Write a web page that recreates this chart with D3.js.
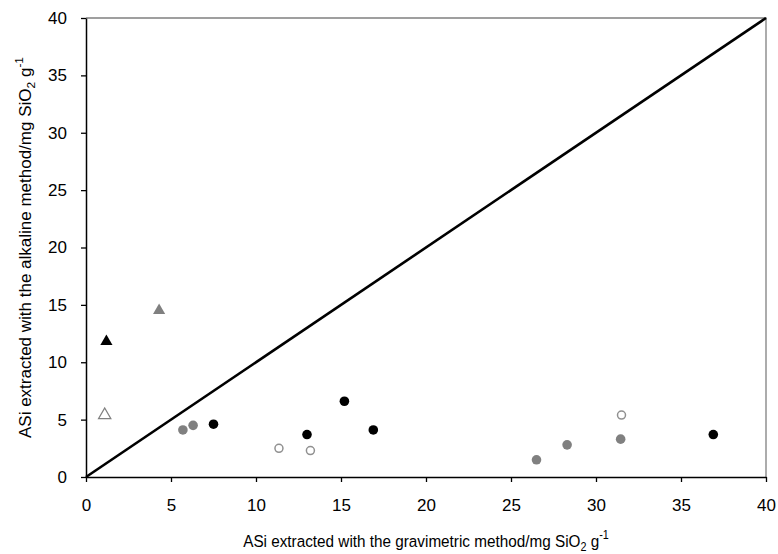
<!DOCTYPE html>
<html>
<head>
<meta charset="utf-8">
<script src="https://cdn.jsdelivr.net/npm/d3@7"></script>
<style>
  body { margin: 0; background: #fff; }
  text { font-family: Arial, "Liberation Sans", sans-serif; }
</style>
</head>
<body>
<svg id="chart" width="778" height="554"></svg>
<script>
// data
const blackTriangles = [[1.2, 11.8]];
const grayTriangles = [[4.3, 14.5]];
const openTriangles = [[1.1, 5.4]];
const blackCircles = [[7.5, 4.6], [13.0, 3.7], [15.2, 6.6], [16.9, 4.1], [36.9, 3.7]];
const grayCircles = [[5.7, 4.1], [6.3, 4.5], [26.5, 1.5], [28.3, 2.8], [31.45, 3.3]];
const openCircles = [[11.35, 2.5], [13.2, 2.3], [31.5, 5.4]];
const ticks = [0, 5, 10, 15, 20, 25, 30, 35, 40];

const svg = d3.select("#chart");
const m = { left: 86, right: 766, top: 18, bottom: 477 };

const x = d3.scaleLinear().domain([0, 40]).range([m.left, m.right]);
const y = d3.scaleLinear().domain([0, 40]).range([m.bottom, m.top]);

// gray frame on top & right
svg.append("path")
    .attr("d", `M${x(0)},${y(40)}H${x(40)}V${y(0)}`)
    .attr("fill", "none")
    .attr("stroke", "#808080")
    .attr("stroke-width", 1.3);

const xAxis = svg.append("g")
    .attr("transform", `translate(0,${m.bottom})`)
    .call(d3.axisBottom(x).tickValues(ticks).tickSize(5).tickPadding(17).tickSizeOuter(0));
const yAxis = svg.append("g")
    .attr("transform", `translate(${m.left},0)`)
    .call(d3.axisLeft(y).tickValues(ticks).tickSize(5).tickPadding(14).tickSizeOuter(0));

[xAxis, yAxis].forEach(g => {
    g.select(".domain").attr("stroke", "#000").attr("stroke-width", 1.5);
    g.selectAll(".tick line").attr("stroke", "#000").attr("stroke-width", 1.3);
    g.selectAll(".tick text")
        .attr("fill", "#000")
        .style("font-size", "17px")
        .style("font-family", "Arial, 'Liberation Sans', sans-serif");
});

// 1:1 line
svg.append("line")
    .attr("x1", x(0)).attr("y1", y(0))
    .attr("x2", x(40)).attr("y2", y(40))
    .attr("stroke", "#000")
    .attr("stroke-width", 2.6);

const tri = d3.symbol().type(d3.symbolTriangle).size(64);

const drawCircles = (data, fill, stroke) => {
    svg.append("g").selectAll("circle")
        .data(data)
        .enter()
        .append("circle")
        .attr("cx", d => x(d[0]))
        .attr("cy", d => y(d[1]))
        .attr("r", fill == "none" ? 4 : 4.8)
        .attr("fill", fill)
        .attr("stroke", stroke)
        .attr("stroke-width", fill == "none" ? 1.5 : 0);
}

const drawTriangles = (data, fill, stroke) => {
    svg.append("g").selectAll("path")
        .data(data)
        .enter()
        .append("path")
        .attr("d", tri)
        .attr("transform", d => `translate(${x(d[0])},${y(d[1])})`)
        .attr("fill", fill)
        .attr("stroke", stroke)
        .attr("stroke-width", fill == "none" ? 1.3 : 0);
}

drawCircles(grayCircles, "#808080", "none");
drawCircles(blackCircles, "#000", "none");
drawCircles(openCircles, "none", "#909090");
drawTriangles(blackTriangles, "#000", "none");
drawTriangles(grayTriangles, "#808080", "none");
drawTriangles(openTriangles, "none", "#808080");

// axis titles (the originals look a bit condensed)
const addTitle = (g, main) => {
    let t = g.append("text")
        .attr("text-anchor", "middle")
        .style("font-size", "17px");
    t.append("tspan").text(main + "SiO");
    t.append("tspan").attr("dy", 4).style("font-size", "12px").text("2");
    t.append("tspan").attr("dy", -4).text(" g");
    t.append("tspan").attr("dy", -8).style("font-size", "12px").text("-1");
}

addTitle(svg.append("g")
    .attr("transform", `translate(${(m.left + m.right) / 2},547) scale(0.9,1)`),
    "ASi extracted with the gravimetric method/mg ");

addTitle(svg.append("g")
    .attr("transform", `translate(31,${(m.top + m.bottom) / 2}) rotate(-90) scale(1.0,0.95)`),
    "ASi extracted with the alkaline method/mg ");
</script>
</body>
</html>
